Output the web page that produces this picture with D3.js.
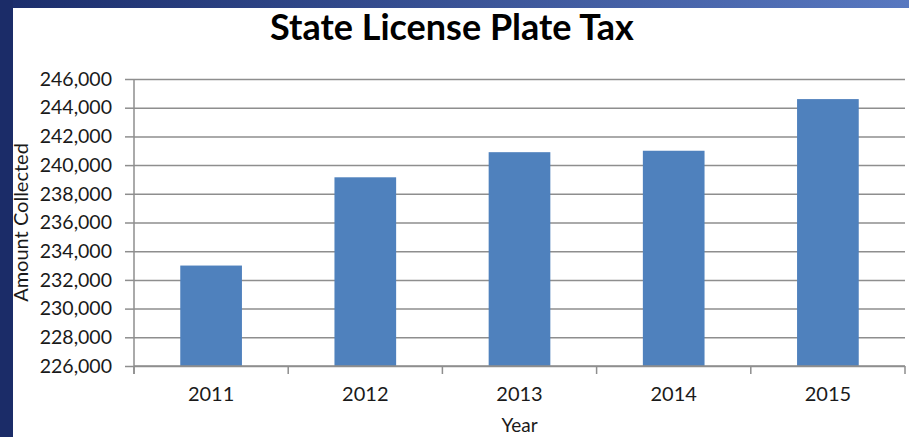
<!DOCTYPE html>
<html>
<head>
<meta charset="utf-8">
<script src="https://d3js.org/d3.v7.min.js"></script>
<style>
  body { margin: 0; padding: 0; background: #fff; }
  svg text { font-family: Lato, "Open Sans", sans-serif; }
</style>
</head>
<body>
<div id="chart"></div>
<script>
// chart data
const years = ["2011", "2012", "2013", "2014", "2015"];
const amounts = [233000, 239150, 240900, 241000, 244600];
const yTicks = [226000, 228000, 230000, 232000, 234000, 236000, 238000, 240000, 242000, 244000, 246000];

const width = 909, height = 437;
const margin = { top: 79, right: 4, bottom: 71, left: 134 };

const svg = d3
  .select("#chart")
  .append("svg")
  .attr("width", width)
  .attr("height", height);

// slide background: dark blue border on the left and a gradient strip on top
const defs = svg.append("defs");
const grad = defs
  .append("linearGradient")
  .attr("id", "topStrip")
  .attr("x1", "0%")
  .attr("x2", "100%");
grad.append("stop").attr("offset", "0%").attr("stop-color", "#1b2d6b");
grad.append("stop").attr("offset", "100%").attr("stop-color", "#5878c0");

svg.append("rect").attr("width", width).attr("height", height).attr("fill", "#ffffff");
svg.append("rect").attr("width", width).attr("height", 8).attr("fill", "url(#topStrip)");
svg.append("rect").attr("width", 13).attr("height", height).attr("fill", "#1b2c68");

const x = d3
  .scaleBand()
  .domain(years)
  .range([margin.left, width - margin.right])
  .paddingInner(0.6)
  .paddingOuter(0.3);

const y = d3
  .scaleLinear()
  .domain([226000, 246000])
  .range([height - margin.bottom, margin.top]);

const gridColor = "#8e8e8e";
const textColor = "#1a1a1a";

// horizontal gridlines + y axis
const yAxis = svg
  .append("g")
  .attr("transform", `translate(${margin.left},0)`)
  .call(
    d3
      .axisLeft(y)
      .tickValues(yTicks)
      .tickFormat(d3.format(","))
      .tickSize(9)
      .tickPadding(13)
  );
yAxis.select(".domain").remove();
yAxis.selectAll(".tick line").attr("stroke", gridColor).attr("stroke-width", 1.5);
yAxis
  .selectAll(".tick")
  .append("line")
  .attr("x1", 0)
  .attr("x2", width - margin.right - margin.left)
  .attr("stroke", gridColor)
  .attr("stroke-width", 1.5);
yAxis
  .selectAll(".tick text")
  .attr("fill", textColor)
  .style("font-size", "19.5px");

// bars
svg
  .selectAll("rect.bar")
  .data(years)
  .enter()
  .append("rect")
  .attr("class", "bar")
  .attr("x", (d) => x(d))
  .attr("y", (d, i) => y(amounts[i]))
  .attr("width", x.bandwidth())
  .attr("height", (d, i) => y(226000) - y(amounts[i]))
  .attr("fill", "#4f81bd");

// vertical axis line
svg
  .append("line")
  .attr("x1", margin.left)
  .attr("x2", margin.left)
  .attr("y1", margin.top)
  .attr("y2", height - margin.bottom + 8)
  .attr("stroke", gridColor)
  .attr("stroke-width", 1.5);

// category axis
const baseY = height - margin.bottom;
const xAxis = svg
  .append("g")
  .attr("transform", `translate(0,${baseY})`)
  .call(d3.axisBottom(x).tickSize(0).tickPadding(21));
xAxis.select(".domain").remove();
xAxis
  .selectAll(".tick text")
  .attr("fill", textColor)
  .style("font-size", "20px");

svg
  .append("line")
  .attr("x1", margin.left)
  .attr("x2", width - margin.right)
  .attr("y1", baseY)
  .attr("y2", baseY)
  .attr("stroke", gridColor)
  .attr("stroke-width", 1.5);

// category boundary ticks
const step = x.step();
const bounds = d3.range(years.length + 1).map((i) => margin.left + i * step);
svg
  .selectAll("line.cat-tick")
  .data(bounds)
  .enter()
  .append("line")
  .attr("class", "cat-tick")
  .attr("x1", (d) => d)
  .attr("x2", (d) => d)
  .attr("y1", baseY)
  .attr("y2", baseY + 8)
  .attr("stroke", gridColor)
  .attr("stroke-width", 1.5);

// title
svg
  .append("text")
  .attr("x", 452)
  .attr("y", 40)
  .attr("text-anchor", "middle")
  .attr("fill", "#000")
  .style("font-size", "36px")
  .style("font-weight", "bold")
  .text("State License Plate Tax");

// axis titles
svg
  .append("text")
  .attr("x", (margin.left + width - margin.right) / 2)
  .attr("y", 432)
  .attr("text-anchor", "middle")
  .attr("fill", textColor)
  .style("font-size", "19px")
  .text("Year");

svg
  .append("text")
  .attr("transform", `translate(28,${(margin.top + baseY) / 2}) rotate(-90)`)
  .attr("text-anchor", "middle")
  .attr("fill", textColor)
  .style("font-size", "20px")
  .text("Amount Collected");
</script>
</body>
</html>
